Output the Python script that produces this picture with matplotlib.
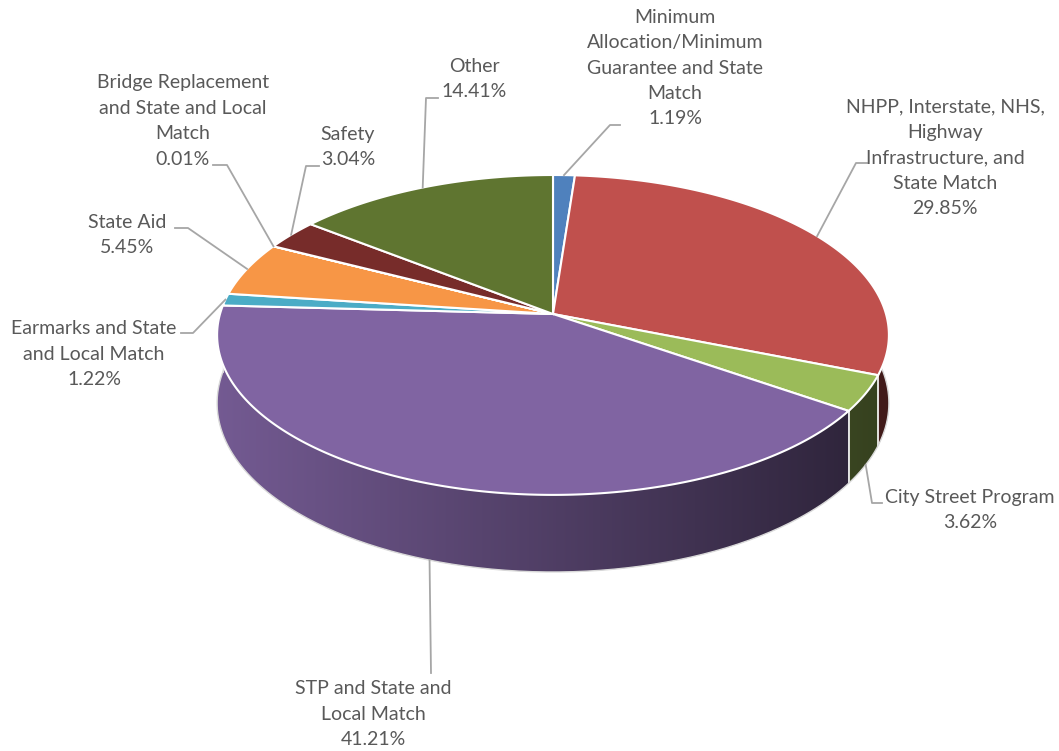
import numpy as np
import matplotlib.pyplot as plt
from matplotlib.patches import Polygon
from matplotlib.colors import to_rgb

# data
labels = ['Minimum\nAllocation/Minimum\nGuarantee and State\nMatch',
          'NHPP, Interstate, NHS,\nHighway\nInfrastructure, and\nState Match',
          'City Street Program',
          'STP and State and\nLocal Match',
          'Earmarks and State\nand Local Match',
          'State Aid',
          'Bridge Replacement\nand State and Local\nMatch',
          'Safety',
          'Other']
values = [1.19, 29.85, 3.62, 41.21, 1.22, 5.45, 0.01, 3.04, 14.41]
colors = ['#4F81BD', '#C0504D', '#9BBB59', '#8064A2', '#4BACC6',
          '#F79646', '#2C4D75', '#772C2A', '#5F7530']

# label layout in pixels: text centre, elbow of leader, end of leader
text_pos = [(675, 68), (945, 158), (970, 510), (373, 714), (94, 354),
            (127, 235), (183, 121), (348, 147), (474, 79)]
elbow = [(610, 125), (856, 163), (872, 503), (431, 673), (193, 333),
         (188, 228), (227, 165), (306, 166), (426, 98)]
leader_end = [(620, 125), (867, 163), (882, 503), (431, 673), (181, 333),
              (175, 228), (213, 165), (319, 166), (438, 98)]

# pie geometry (pixels)
cx, cy = 553, 314
rx, ry = 333, 157.2
k = 0.131       # perspective strength
depth = 67


def project(phi, drop=0.0):
    x = np.sin(phi)
    z = -np.cos(phi)
    s = 1.0 / (1.0 - k * z)
    return cx + rx * x * s, cy + ry * z * s + drop * s


fig = plt.figure(figsize=(10.59, 7.51), dpi=100)
ax = fig.add_axes([0, 0, 1, 1])
ax.axis('off')

total = sum(values)
bounds = np.concatenate([[0], np.cumsum(values)]) / total * 2 * np.pi

# side walls, shaded light (left) to dark (right)
x_left, x_right = cx - rx - 10, cx + rx + 10
t = np.linspace(0, 1, 400)
f = np.clip(0.9 - 0.56 * (t * (x_right - x_left) + x_left - (cx - rx)) / (2 * rx), 0.3, 1)
order = sorted(range(len(values)),
               key=lambda i: max(-np.cos(p) for p in np.linspace(bounds[i], bounds[i + 1], 50)))
for i in order:
    a0, a1 = bounds[i], bounds[i + 1]
    n = max(2, int(np.degrees(a1 - a0) / 0.5) + 1)
    ph = np.linspace(a0, a1, n)
    tx_, ty_ = project(ph)
    bx_, by_ = project(ph, depth)
    pts = list(zip(tx_, ty_)) + list(zip(bx_[::-1], by_[::-1]))
    wall = Polygon(pts, closed=True, facecolor='none', edgecolor='none')
    ax.add_patch(wall)
    img = np.array(to_rgb(colors[i]))[None, None, :] * f[None, :, None]
    im = ax.imshow(img, extent=(x_left, x_right, 700, 100), aspect='auto',
                   interpolation='bilinear', zorder=1)
    im.set_clip_path(wall)

# boundaries between walls and bottom outline
for b in bounds[:-1]:
    x0, y0 = project(b)
    x1, y1 = project(b, depth)
    ax.plot([x0, x1], [y0, y1], color='white', lw=1.2, zorder=2)
ph = np.linspace(np.pi / 2 - 0.2, 3 * np.pi / 2 + 0.2, 300)
bx, by = project(ph, depth)
ax.plot(bx, by, color='#d9d9d9', lw=1.0, zorder=2)

# top face
for i, v in enumerate(values):
    a0, a1 = bounds[i], bounds[i + 1]
    n = max(2, int(np.degrees(a1 - a0) / 0.5) + 1)
    ph = np.linspace(a0, a1, n)
    xs, ys = project(ph)
    pts = [(cx, cy)] + list(zip(xs, ys))
    ax.add_patch(Polygon(pts, closed=True, facecolor=colors[i],
                         edgecolor='white', linewidth=1.5, zorder=3))

# labels and leader lines
for i, v in enumerate(values):
    mid = 0.5 * (bounds[i] + bounds[i + 1])
    if -np.cos(mid) > 0:
        sx, sy = project(mid, depth)
    else:
        sx, sy = project(mid)
    ex, ey = elbow[i]
    fx, fy = leader_end[i]
    ax.plot([sx, ex, fx], [sy, ey, fy], color='#a6a6a6', lw=1.3, zorder=4)
    tx, ty = text_pos[i]
    ax.text(tx, ty, f'{labels[i]}\n{v:.2f}%', ha='center', va='center',
            multialignment='center', fontsize=14, family='Lato',
            color='#595959', linespacing=1.6, zorder=5)

ax.set_xlim(0, 1059)
ax.set_ylim(751, 0)

plt.savefig('out.png', dpi=100)
plt.close()
